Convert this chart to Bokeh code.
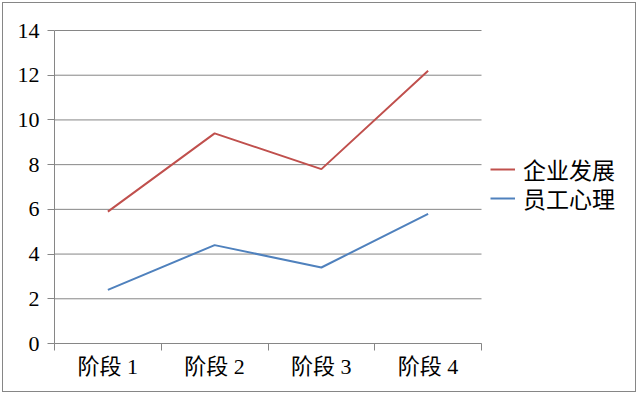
from bokeh.plotting import figure
from bokeh.models import Range1d, FixedTicker, Legend, LegendItem
from bokeh.embed import file_html
from bokeh.resources import INLINE

categories = ["阶段 1", "阶段 2", "阶段 3", "阶段 4"]
series_names = ["企业发展", "员工心理"]
enterprise = [5.9, 9.4, 7.8, 12.2]
staff = [2.4, 4.4, 3.4, 5.8]
y_ticks = [0, 2, 4, 6, 8, 10, 12, 14]
colors = ["#C0504D", "#4F81BD"]

FONT = "'Liberation Serif', 'Noto Sans CJK SC', serif"
GRAY = "#868686"

n = len(categories)
xs = [i + 0.5 for i in range(n)]

# layout geometry (pixels)
W, H = 634, 390
left, top, bottom = 51, 25, 50
plot_px = 427                      # width of the category area
frame_w = W - left
frame_h = H - top - bottom
y_top = 14 + 2 * 14 / (frame_h - 2)  # small headroom so the 14 gridline is not clipped

p = figure(width=W, height=H, output_backend="svg", toolbar_location=None,
           x_range=Range1d(0, n * frame_w / plot_px), y_range=Range1d(0, y_top),
           min_border_left=left, min_border_right=0, min_border_top=top,
           min_border_bottom=bottom)
p.styles = {"border": "1px solid #868686", "margin": "2px"}
p.outline_line_color = None
p.background_fill_color = "white"
p.border_fill_color = "white"

# horizontal gridlines limited to the category area
p.segment(x0=[0] * len(y_ticks), x1=[n] * len(y_ticks), y0=y_ticks, y1=y_ticks,
          line_color=GRAY, line_width=1)

r1 = p.line(xs, enterprise, line_color=colors[0], line_width=2)
r2 = p.line(xs, staff, line_color=colors[1], line_width=2)

# x axis
p.xaxis.bounds = (0, n)
p.xaxis.ticker = FixedTicker(ticks=xs, minor_ticks=list(range(n + 1)))
p.xaxis.major_label_overrides = {x: c for x, c in zip(xs, categories)}
p.xaxis.major_tick_out = 0
p.xaxis.major_tick_in = 0
p.xaxis.minor_tick_out = 7
p.xaxis.minor_tick_in = 0
p.xaxis.minor_tick_line_color = GRAY
p.xaxis.axis_line_color = GRAY
p.xaxis.major_label_text_font = FONT
p.xaxis.major_label_text_font_size = "22px"
p.xaxis.major_label_text_color = "black"
p.xaxis.major_label_standoff = 3

# y axis
p.yaxis.bounds = (0, 14)
p.yaxis.ticker = FixedTicker(ticks=y_ticks, minor_ticks=[])
p.yaxis.major_tick_out = 7
p.yaxis.major_tick_in = 0
p.yaxis.major_tick_line_color = GRAY
p.yaxis.axis_line_color = GRAY
p.yaxis.major_label_text_font = FONT
p.yaxis.major_label_text_font_size = "22px"
p.yaxis.major_label_text_color = "black"
p.yaxis.major_label_standoff = 8

p.xgrid.grid_line_color = None
p.ygrid.grid_line_color = None

legend_style = dict(orientation="vertical", label_text_font=FONT,
                    label_text_font_size="23px", label_text_color="black",
                    glyph_width=25, glyph_height=22, label_standoff=8,
                    spacing=0, padding=0, margin=0, border_line_color=None,
                    background_fill_alpha=0)
legend1 = Legend(items=[LegendItem(label=series_names[0], renderers=[r1])],
                 location=(436, 157), **legend_style)
legend2 = Legend(items=[LegendItem(label=series_names[1], renderers=[r2])],
                 location=(436, 128), **legend_style)
p.add_layout(legend1, "center")
p.add_layout(legend2, "center")

open("out.html", "w").write(file_html(p, INLINE))
